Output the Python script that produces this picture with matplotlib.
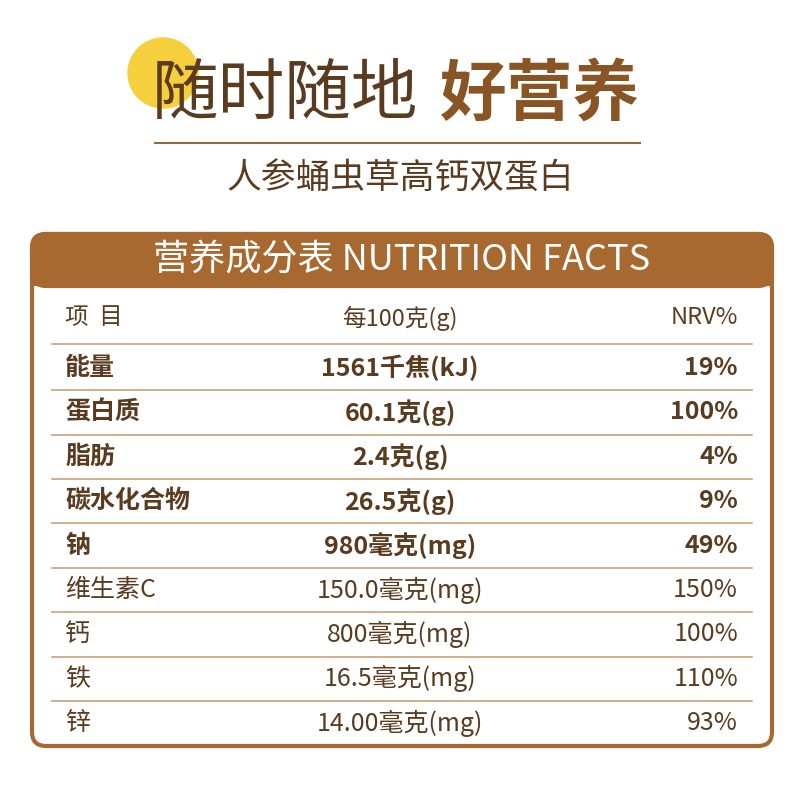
import matplotlib.pyplot as plt
from matplotlib.patches import FancyBboxPatch, Circle

plt.rcParams['font.family'] = ['Noto Sans CJK SC', 'DejaVu Sans']

items = ["能量", "蛋白质", "脂肪", "碳水化合物", "钠", "维生素C", "钙", "铁", "锌"]
amounts = ["1561千焦(kJ)", "60.1克(g)", "2.4克(g)", "26.5克(g)", "980毫克(mg)",
           "150.0毫克(mg)", "800毫克(mg)", "16.5毫克(mg)", "14.00毫克(mg)"]
nrv = ["19%", "100%", "4%", "9%", "49%", "150%", "100%", "110%", "93%"]
bold_rows = 5

BROWN = "#a7692f"
DARK = "#5b3b1f"
LINE = "#c9a27a"

fig = plt.figure(figsize=(8, 8), dpi=100)
ax = fig.add_axes([0, 0, 1, 1])
ax.set_xlim(0, 800)
ax.set_ylim(800, 0)
ax.axis('off')

# title
ax.add_patch(Circle((163, 73), 35, color="#f6cf3c", zorder=1))
ax.text(152, 95, "随时随地", fontsize=48, color=DARK, va='center', ha='left', zorder=2, fontweight='light')
ax.text(640, 95, "好营养", fontsize=48, color="#8a5524", va='center', ha='right', zorder=2, fontweight='bold')
ax.plot([155, 640], [143, 143], color="#8a6a4a", lw=1.5)
ax.text(400, 178, "人参蛹虫草高钙双蛋白", fontsize=25, color=DARK, va='center', ha='center')

# table box
ax.add_patch(FancyBboxPatch((32, 234), 740, 512, boxstyle="round,pad=0,rounding_size=14",
                            fc="white", ec=BROWN, lw=3))
ax.add_patch(FancyBboxPatch((32, 234), 740, 52, boxstyle="round,pad=0,rounding_size=14",
                            fc=BROWN, ec=BROWN, lw=3))
ax.add_patch(plt.Rectangle((32, 270), 740, 16, fc=BROWN, ec='none'))
ax.text(402, 260, "营养成分表 NUTRITION FACTS", fontsize=26, color="white", va='center', ha='center')

# column header
ax.text(65, 318, "项  目", fontsize=17, color=DARK, va='center', ha='left')
ax.text(400, 318, "每100克(g)", fontsize=17, color=DARK, va='center', ha='center')
ax.text(738, 318, "NRV%", fontsize=17, color=DARK, va='center', ha='right')

y0, dy = 368, 44.4
ax.plot([52, 752], [344, 344], color=LINE, lw=1.2)
for i, (it, am, nv) in enumerate(zip(items, amounts, nrv)):
    y = y0 + i * dy
    w = 'bold' if i < bold_rows else 'normal'
    ax.text(65, y, it, fontsize=18, color=DARK, va='center', ha='left', fontweight=w)
    ax.text(400, y, am, fontsize=18, color=DARK, va='center', ha='center', fontweight=w)
    ax.text(738, y, nv, fontsize=18, color=DARK, va='center', ha='right', fontweight=w)
    if i < len(items) - 1:
        ax.plot([52, 752], [y + dy / 2, y + dy / 2], color=LINE, lw=1.2)

fig.savefig("out.png", dpi=100, facecolor="white")
